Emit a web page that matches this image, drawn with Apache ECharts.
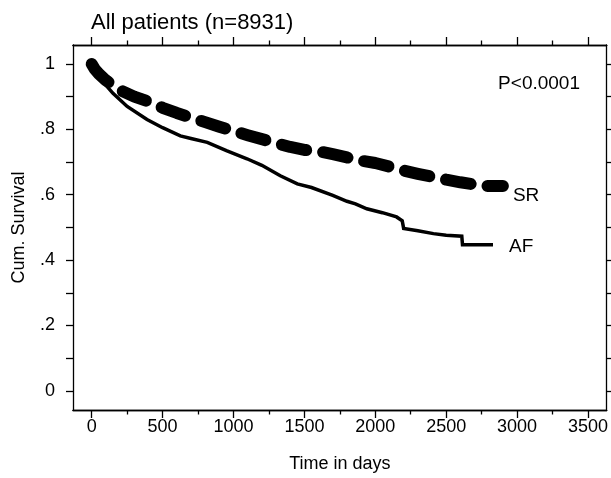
<!DOCTYPE html>
<html>
<head>
<meta charset="utf-8">
<script src="https://cdn.jsdelivr.net/npm/echarts@6/dist/echarts.min.js"></script>
<style>html,body{margin:0;padding:0;background:#fff}#c{width:611px;height:478px}</style>
</head>
<body>
<div id="c"></div>
<script>
// ---- data ----
const srDays = [0, 20, 50, 100, 150, 200, 300, 400, 500, 600, 700, 800, 900, 1000, 1100, 1200, 1300, 1400, 1500, 1600, 1700, 1800, 1900, 2000, 2100, 2200, 2300, 2400, 2500, 2600, 2700, 2780, 2900];
const srSurv = [1.0, 0.985, 0.97, 0.95, 0.935, 0.92, 0.90, 0.885, 0.866, 0.85, 0.836, 0.822, 0.808, 0.795, 0.782, 0.77, 0.758, 0.746, 0.737, 0.733, 0.724, 0.714, 0.704, 0.697, 0.686, 0.674, 0.664, 0.655, 0.646, 0.638, 0.631, 0.627, 0.627];
const afDays = [0, 30, 80, 150, 250, 390, 500, 625, 700, 815, 950, 1095, 1200, 1330, 1450, 1550, 1700, 1800, 1860, 1940, 2050, 2150, 2190, 2200, 2300, 2410, 2500, 2610, 2615, 2830];
const afSurv = [1.0, 0.975, 0.945, 0.91, 0.87, 0.83, 0.805, 0.78, 0.772, 0.76, 0.735, 0.71, 0.69, 0.658, 0.633, 0.622, 0.598, 0.58, 0.572, 0.557, 0.545, 0.532, 0.52, 0.497, 0.49, 0.481, 0.476, 0.473, 0.447, 0.447];
const xMajorTicks = [0, 500, 1000, 1500, 2000, 2500, 3000, 3500];
const xMinorTicks = [250, 750, 1250, 1750, 2250, 2750, 3250];
const yLabelTicks = [0, 0.2, 0.4, 0.6, 0.8, 1];
const yTicks = [0, 0.1, 0.2, 0.3, 0.4, 0.5, 0.6, 0.7, 0.8, 0.9, 1];
const titleText = 'All patients (n=8931)';
const pText = 'P<0.0001';

const FONT = 'Liberation Sans';
const XMIN = -132, XMAX = 3632, YMIN = -0.0586, YMAX = 1.058;
const fmtY = v => { const r = Math.round(v * 10) / 10; if (r === 0) return '0'; if (r === 1) return '1'; return String(r).replace(/^0/, ''); };
const fmtX = v => String(Math.round(v));

function xAx(pos, major, labels) {
  return {
    type: 'value', position: pos, min: XMIN, max: XMAX, gridIndex: 0,
    splitLine: { show: false },
    axisLine: { show: true, onZero: false, lineStyle: { color: '#000', width: 1.3 } },
    axisTick: { show: true, customValues: major ? xMajorTicks : xMinorTicks, length: major ? 8 : 4.5, lineStyle: { color: '#000', width: 1.3 } },
    axisLabel: { show: labels, customValues: xMajorTicks, formatter: fmtX, color: '#000', fontFamily: FONT, fontSize: 18, margin: 8 },
    name: labels ? 'Time in days' : '', nameLocation: 'middle', nameGap: 45,
    nameTextStyle: { color: '#000', fontFamily: FONT, fontSize: 18 }
  };
}
function yAx(pos, labels) {
  return {
    type: 'value', position: pos, min: YMIN, max: YMAX, gridIndex: 0,
    splitLine: { show: false },
    axisLine: { show: true, onZero: false, lineStyle: { color: '#000', width: 1.3 } },
    axisTick: { show: true, customValues: yTicks, length: 7, lineStyle: { color: '#000', width: 1.3 } },
    axisLabel: { show: labels, customValues: yLabelTicks, formatter: fmtY, color: '#000', fontFamily: FONT, fontSize: 18, margin: 18 },
    name: labels ? 'Cum. Survival' : '', nameLocation: 'middle', nameGap: 45,
    nameTextStyle: { color: '#000', fontFamily: FONT, fontSize: 18 }
  };
}

const chart = echarts.init(document.getElementById('c'), null, { renderer: 'canvas' });
chart.setOption({
  animation: false,
  backgroundColor: '#fff',
  title: { text: titleText, left: 86, top: 7, textStyle: { color: '#000', fontFamily: FONT, fontSize: 22, fontWeight: 'normal' } },
  grid: { left: 73, top: 45, width: 534, height: 367 },
  xAxis: [xAx('bottom', true, true), xAx('bottom', false, false), xAx('top', true, false), xAx('top', false, false)],
  yAxis: [yAx('left', true), yAx('right', false)],
  graphic: [{ type: 'text', right: 31, top: 74, style: { text: pText, fill: '#000', font: '19px "Liberation Sans"' } }],
  series: [
    {
      name: 'SR', type: 'line', xAxisIndex: 0, yAxisIndex: 0, symbol: 'none', smooth: false,
      data: srDays.map((d, i) => [d, srSurv[i]]),
      lineStyle: { color: '#000', width: 12, type: [25, 17], cap: 'round', join: 'round' },
      endLabel: { show: true, formatter: '{a}', color: '#000', fontFamily: FONT, fontSize: 19, offset: [2, 10] }
    },
    {
      name: 'AF', type: 'line', xAxisIndex: 0, yAxisIndex: 0, symbol: 'none', smooth: false,
      data: afDays.map((d, i) => [d, afSurv[i]]),
      lineStyle: { color: '#000', width: 3.5, cap: 'butt', join: 'miter' },
      endLabel: { show: true, formatter: '{a}', color: '#000', fontFamily: FONT, fontSize: 19, offset: [8, 2] }
    }
  ]
});
</script>
</body>
</html>
